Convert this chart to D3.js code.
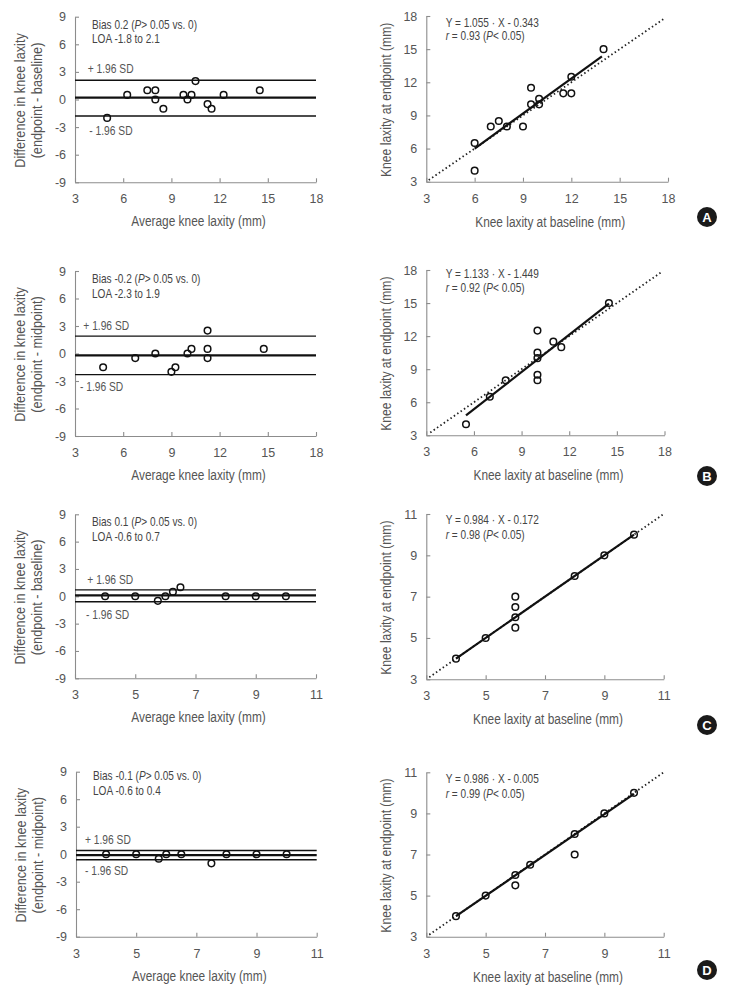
<!DOCTYPE html>
<html><head><meta charset="utf-8">
<script src="https://cdn.jsdelivr.net/npm/d3@7"></script>
<style>body{margin:0;background:#fff} svg{display:block}</style>
</head><body><svg id="c" width="739" height="992"></svg>
<script>
// ---------------- DATA ----------------
const panelLetters = ["A", "B", "C", "D"];
const diffTitleLine1 = "Difference in knee laxity";
const diffTitleLine2 = ["(endpoint - baseline)", "(endpoint - midpoint)", "(endpoint - baseline)", "(endpoint - midpoint)"];
const baXTitle = "Average knee laxity (mm)";
const scXTitle = "Knee laxity at baseline (mm)";
const scYTitle = "Knee laxity at endpoint (mm)";

const ticksWide = [3, 6, 9, 12, 15, 18];
const ticksNarrow = [3, 5, 7, 9, 11];
const diffTicks = [-9, -6, -3, 0, 3, 6, 9];

// Bland-Altman: average vs difference
const avgA = [5, 6.25, 7.5, 8, 8, 8.5, 9.75, 10, 10.25, 10.5, 11.25, 11.5, 12.25, 14.5];
const diffA = [-2, 0.5, 1, 1, 0, -1, 0.5, 0, 0.5, 2, -0.5, -1, 0.5, 1];
const avgB = [4.75, 6.75, 8, 9, 9.25, 10, 10.25, 11.25, 11.25, 11.25, 14.75];
const diffB = [-1.5, -0.5, 0, -2, -1.5, 0, 0.5, 2.5, 0.5, -0.5, 0.5];
const avgC = [4, 5, 5.75, 6, 6.25, 6.5, 8, 9, 10];
const diffC = [0, 0, -0.5, 0, 0.5, 1, 0, 0, 0];
const avgD = [4, 5, 5.75, 6, 6.5, 7.5, 8, 9, 10];
const diffD = [0, 0, -0.5, 0, 0, -1, 0, 0, 0];

// Scatter: baseline vs endpoint
const baseA = [6, 6, 7, 7.5, 8, 9, 9.5, 9.5, 10, 10, 11.5, 12, 12, 14];
const endA = [4, 6.5, 8, 8.5, 8, 8, 10, 11.5, 10, 10.5, 11, 11, 12.5, 15];
const baseB = [5.5, 7, 8, 10, 10, 10, 10, 10, 11, 11.5, 14.5];
const endB = [4, 6.5, 8, 8, 8.5, 10, 10.5, 12.5, 11.5, 11, 15];
const baseC = [4, 5, 6, 6, 6, 6, 8, 9, 10];
const endC = [4, 5, 5.5, 6, 6.5, 7, 8, 9, 10];
const baseD = [4, 5, 6, 6, 6.5, 8, 8, 9, 10];
const endD = [4, 5, 5.5, 6, 6.5, 7, 8, 9, 10];

// Statistics
const biasVals = [0.2, -0.2, 0.1, -0.1];
const loaLow = [-1.8, -2.3, -0.6, -0.6];
const loaHigh = [2.1, 1.9, 0.7, 0.4];
const slopeTxt = ["1.055", "1.133", "0.984", "0.986"];
const interceptTxt = ["0.343", "1.449", "0.172", "0.005"];
const rTxt = ["0.93", "0.92", "0.98", "0.99"];
// fitted line end points (as drawn)
const fitX1 = [6, 5.5, 4, 4];
const fitY1 = [6.0, 4.8, 4.0, 4.0];
const fitX2 = [13.9, 14.5, 10, 10];
const fitY2 = [14.35, 14.95, 10, 9.95];
// identity (dotted) line range
const identLo = [3.15, 3.25, 3.1, 3.1];
const identHi = [17.75, 17.85, 11, 11];

// ---------------- LAYOUT ----------------
const baData = [[avgA, diffA], [avgB, diffB], [avgC, diffC], [avgD, diffD]];
const scData = [[baseA, endA], [baseB, endB], [baseC, endC], [baseD, endD]];
const leftRect = [[75, 316, 16.7, 182.3], [75, 316, 271, 436], [75, 316, 514.3, 678.3], [76, 316.7, 771.7, 936.7]];
const rightRect = [[426.3, 668, 16, 181.7], [426.3, 664.5, 270, 435.3], [426.3, 663.7, 514, 679.3], [426.3, 663.7, 772.3, 936.7]];
const annoLeftDy = [7.7, 7.3, 7.3, 4];
const annoLeftGap = [13.8, 15, 15, 15];
const annoRightDy = [6.3, 3.3, 5.3, 6];
const annoRightGap = [13.6, 14.4, 15, 15];
const sdPlusX = [87.7, 83.3, 87.3, 85];
const sdMinusX = [89.3, 80, 86, 85];
const sdPlusOff = [12, 10, 10, 11];
const sdMinusOff = [15, 12, 12.7, 11];
const badgeY = [217, 476, 725, 970];

const FT = "'Liberation Sans',Arial,sans-serif";
const SX = 0.82; // condensed look
const AXIS_COL = "#8c8c8c";
const TXT_COL = "#555";

const svg = d3.select("#c");

// narrow text: group translated, optionally rotated, then squeezed horizontally
function ntext(x, y, size, opts = {}) {
  const g = svg.append("g").attr("transform",
    `translate(${x},${y})` + (opts.rot ? ` rotate(${opts.rot})` : "") + ` scale(${opts.sx || SX},1)`);
  const t = g.append("text").attr("x", 0).attr("y", 0)
    .attr("fill", opts.fill || TXT_COL)
    .attr("text-anchor", opts.anchor || "start")
    .attr("dominant-baseline", opts.baseline || "auto")
    .style("font-family", FT).style("font-size", size + "px");
  return t;
}

function styleAxis(g) {
  g.select(".domain").attr("stroke", AXIS_COL).attr("stroke-width", 1.1);
  g.selectAll(".tick line").attr("stroke", AXIS_COL).attr("stroke-width", 1.1);
  g.selectAll(".tick text").attr("fill", TXT_COL).style("font-family", FT).style("font-size", "12.5px");
}

function drawAxes(x, y, rect, xt, yt) {
  const [x0, x1, y0, y1] = rect;
  const gx = svg.append("g").attr("transform", `translate(0,${y1})`)
    .call(d3.axisBottom(x).tickValues(xt).tickSizeInner(-4).tickSizeOuter(0).tickPadding(12).tickFormat(d3.format("d")));
  styleAxis(gx);
  const gy = svg.append("g").attr("transform", `translate(${x0},0)`)
    .call(d3.axisLeft(y).tickValues(yt).tickSizeInner(-4).tickSizeOuter(0).tickPadding(9).tickFormat(d => d < 0 ? "-" + Math.abs(d) : d));
  styleAxis(gy);
}

function addParts(sel, parts) {
  parts.forEach(p => {
    sel.append("tspan").text(p[0]).style("font-style", p[1] ? "italic" : "normal");
  });
}

for (let i = 0; i < 4; i++) {
  // ---------- Bland-Altman panel ----------
  const L = leftRect[i];
  const xt = i < 2 ? ticksWide : ticksNarrow;
  const xL = d3.scaleLinear().domain([xt[0], xt[xt.length - 1]]).range([L[0], L[1]]);
  const yL = d3.scaleLinear().domain([-9, 9]).range([L[3], L[2]]);
  drawAxes(xL, yL, L, xt, diffTicks);

  const lines = [
    { v: loaHigh[i], w: 1.4 },
    { v: loaLow[i], w: 1.4 },
    { v: biasVals[i], w: 2.4 }
  ];
  svg.append("g").selectAll("line").data(lines).join("line")
    .attr("x1", xL(xt[0])).attr("x2", xL(xt[xt.length - 1]))
    .attr("y1", d => yL(d.v)).attr("y2", d => yL(d.v))
    .attr("stroke", "#111").attr("stroke-width", d => d.w);

  const [avg, dif] = baData[i];
  svg.append("g").selectAll("circle").data(avg.map((a, k) => [a, dif[k]])).join("circle")
    .attr("cx", d => xL(d[0])).attr("cy", d => yL(d[1])).attr("r", 3.3)
    .attr("fill", "none").attr("stroke", "#111").attr("stroke-width", 1.5);

  ntext(sdPlusX[i], yL(loaHigh[i]) - sdPlusOff[i], 12.5, { baseline: "central" }).text("+ 1.96 SD");
  ntext(sdMinusX[i], yL(loaLow[i]) + sdMinusOff[i], 12.5, { baseline: "central" }).text("- 1.96 SD");

  const bStr = biasVals[i] < 0 ? "-" + Math.abs(biasVals[i]) : String(biasVals[i]);
  addParts(ntext(L[0] + 17, L[2] + annoLeftDy[i], 12.3, { baseline: "central", fill: "#444" }),
    [["Bias " + bStr + " (", false], ["P", true], ["> 0.05 vs. 0)", false]]);
  const loStr = loaLow[i] < 0 ? "-" + Math.abs(loaLow[i]) : String(loaLow[i]);
  ntext(L[0] + 17, L[2] + annoLeftDy[i] + annoLeftGap[i], 12.3, { baseline: "central", fill: "#444" })
    .text("LOA " + loStr + " to " + loaHigh[i]);

  ntext((L[0] + L[1]) / 2 + 3, L[3] + 44, 14.5, { anchor: "middle" }).text(baXTitle);
  const cy = (L[2] + L[3]) / 2 + 1;
  ntext(L[0] - 50, cy, 15.5, { anchor: "middle", rot: -90 }).text(diffTitleLine1);
  ntext(L[0] - 33, cy, 15.5, { anchor: "middle", rot: -90 }).text(diffTitleLine2[i]);

  // ---------- Scatter panel ----------
  const R = rightRect[i];
  const xR = d3.scaleLinear().domain([xt[0], xt[xt.length - 1]]).range([R[0], R[1]]);
  const yR = d3.scaleLinear().domain([xt[0], xt[xt.length - 1]]).range([R[3], R[2]]);
  drawAxes(xR, yR, R, xt, xt);

  svg.append("line")
    .attr("x1", xR(identLo[i])).attr("y1", yR(identLo[i]))
    .attr("x2", xR(identHi[i])).attr("y2", yR(identHi[i]))
    .attr("stroke", "#222").attr("stroke-width", 1.8).attr("stroke-dasharray", "1.5,2.6");
  svg.append("line")
    .attr("x1", xR(fitX1[i])).attr("y1", yR(fitY1[i]))
    .attr("x2", xR(fitX2[i])).attr("y2", yR(fitY2[i]))
    .attr("stroke", "#111").attr("stroke-width", 2.2);

  const [bs, en] = scData[i];
  svg.append("g").selectAll("circle").data(bs.map((b, k) => [b, en[k]])).join("circle")
    .attr("cx", d => xR(d[0])).attr("cy", d => yR(d[1])).attr("r", 3.3)
    .attr("fill", "none").attr("stroke", "#111").attr("stroke-width", 1.5);

  ntext(R[0] + 19.4, R[2] + annoRightDy[i], 12.3, { baseline: "central", fill: "#444" })
    .text("Y = " + slopeTxt[i] + " \u00B7 X - " + interceptTxt[i]);
  addParts(ntext(R[0] + 19.4, R[2] + annoRightDy[i] + annoRightGap[i], 12.3, { baseline: "central", fill: "#444" }),
    [["r", true], [" = " + rTxt[i] + " (", false], ["P", true], ["< 0.05)", false]]);

  ntext((R[0] + R[1]) / 2 + 3, R[3] + 45, 14.5, { anchor: "middle" }).text(scXTitle);
  ntext(R[0] - 35, (R[2] + R[3]) / 2 + 1, 14.8, { anchor: "middle", rot: -90 }).text(scYTitle);

  // badge
  svg.append("circle").attr("cx", 707).attr("cy", badgeY[i]).attr("r", 10).attr("fill", "#1a1a1a");
  svg.append("text").attr("x", 707).attr("y", badgeY[i] + 0.5).attr("text-anchor", "middle")
    .attr("dominant-baseline", "central").attr("fill", "#fff")
    .style("font-family", FT).style("font-weight", "bold").style("font-size", "13px").text(panelLetters[i]);
}
</script></body></html>
